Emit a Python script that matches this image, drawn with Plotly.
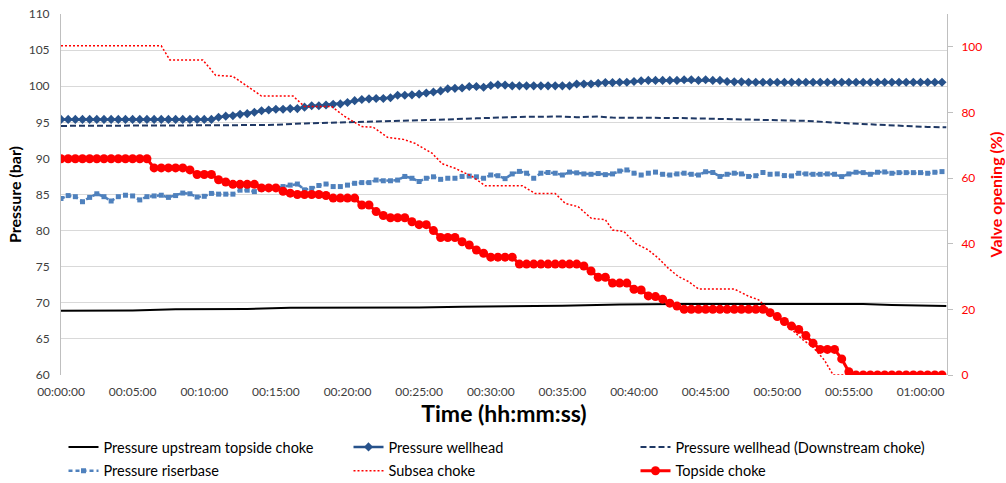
import plotly.graph_objects as go

# ---- 30-second samples (markers drawn at every sample) ----
SAMPLE_STEP_MIN = 0.5

pressure_wellhead = [
    95.4, 95.4, 95.4, 95.4, 95.4, 95.4, 95.4, 95.4, 95.4, 95.4,
    95.4, 95.4, 95.4, 95.4, 95.4, 95.4, 95.4, 95.4, 95.4, 95.4,
    95.4, 95.4, 95.7, 95.85, 95.9, 96.1, 96.2, 96.4, 96.6, 96.7,
    96.8, 96.8, 96.9, 96.9, 97.1, 97.3, 97.3, 97.4, 97.5, 97.55,
    97.75, 98.0, 98.15, 98.25, 98.3, 98.3, 98.4, 98.75, 98.75, 98.8,
    98.9, 99.05, 99.2, 99.35, 99.65, 99.7, 99.75, 99.95, 99.95, 99.85,
    100.1, 100.2, 100.15, 100.05, 100.05, 100.05, 100.05, 100.05, 100.05, 100.05,
    100.05, 100.05, 100.3, 100.3, 100.3, 100.4, 100.5, 100.5, 100.55, 100.55,
    100.65, 100.75, 100.8, 100.8, 100.8, 100.8, 100.8, 100.9, 100.9, 100.8,
    100.9, 100.8, 100.8, 100.65, 100.6, 100.6, 100.55, 100.55, 100.55, 100.55,
    100.55, 100.55, 100.55, 100.55, 100.55, 100.55, 100.55, 100.55, 100.55, 100.55,
    100.55, 100.55, 100.55, 100.55, 100.55, 100.55, 100.55, 100.55, 100.55, 100.55,
    100.55, 100.55, 100.55, 100.55,
]

pressure_riserbase = [
    84.45, 84.85, 84.7, 84.0, 84.6, 85.1, 84.7, 84.1, 84.7, 84.9,
    84.8, 84.25, 84.7, 84.8, 84.9, 84.6, 84.85, 85.2, 85.1, 84.65,
    84.75, 85.15, 85.05, 85.05, 85.05, 85.6, 85.6, 85.4, 85.7, 85.9,
    85.9, 86.1, 86.3, 86.45, 85.65, 85.85, 86.25, 86.45, 86.1, 86.1,
    86.3, 86.55, 86.65, 86.65, 87.0, 86.9, 86.9, 87.0, 87.5, 87.25,
    86.8, 87.25, 87.45, 87.1, 87.25, 87.25, 87.5, 87.55, 87.45, 87.25,
    87.7, 87.6, 87.2, 87.85, 88.2, 87.95, 87.25, 87.95, 88.05, 87.95,
    87.7, 88.1, 88.0, 87.85, 87.8, 87.9, 87.75, 87.85, 88.25, 88.4,
    87.95, 87.7, 87.95, 88.1, 87.8, 87.7, 87.85, 87.95, 87.8, 87.7,
    88.15, 88.05, 87.5, 87.8, 87.95, 87.85, 87.5, 87.6, 88.05, 87.8,
    87.85, 87.62, 87.57, 87.94, 87.85, 87.8, 87.8, 87.85, 87.8, 87.48,
    87.85, 88.08, 88.03, 87.8, 88.08, 88.12, 87.94, 88.03, 88.03, 88.03,
    88.03, 87.94, 88.08, 88.17,
]

topside_choke = [
    65.9, 65.9, 65.9, 65.9, 65.9, 65.9, 65.9, 65.9, 65.9, 65.9,
    65.9, 65.9, 65.9, 63.1, 63.1, 63.1, 63.1, 63.1, 62.5, 61.1,
    61.1, 61.1, 59.5, 58.8, 58.1, 58.1, 58.1, 58.1, 57.0, 57.0,
    57.0, 56.0, 55.4, 55.0, 55.0, 55.0, 55.0, 54.7, 53.9, 53.9,
    53.9, 53.9, 51.8, 51.8, 49.8, 48.6, 47.9, 47.9, 47.9, 46.7,
    45.8, 45.8, 44.0, 41.9, 41.9, 41.9, 40.6, 39.6, 38.1, 37.1,
    35.9, 35.9, 35.9, 35.9, 33.8, 33.8, 33.8, 33.8, 33.8, 33.8,
    33.8, 33.8, 33.8, 33.2, 31.7, 29.8, 29.8, 28.0, 28.0, 28.0,
    26.1, 25.9, 24.1, 23.9, 23.1, 21.9, 21.0, 20.0, 20.0, 20.0,
    20.0, 20.0, 20.0, 20.0, 20.0, 20.0, 20.0, 20.0, 20.0, 19.0,
    17.8, 16.3, 14.9, 13.9, 12.0, 9.7, 7.8, 7.8, 7.8, 4.9,
    1.0, 0.0, 0.0, 0.0, 0.0, 0.0, 0.0, 0.0, 0.0, 0.0,
    0.0, 0.0, 0.0, 0.0,
]

sample_time = [i * SAMPLE_STEP_MIN for i in range(len(topside_choke))]

# ---- continuous logs (no markers), given at their break points ----
upstream_time = [0, 5, 8, 13, 16, 19, 22, 25, 28, 31, 35, 39, 43, 50, 56, 58, 61.8]
pressure_upstream = [68.9, 68.95, 69.1, 69.15, 69.3, 69.3, 69.35, 69.35, 69.45,
                     69.5, 69.6, 69.75, 69.85, 69.85, 69.85, 69.7, 69.55]

downstream_time = [0, 8, 12, 15, 17, 20, 22, 24, 26, 27, 29, 32, 35, 36, 37.5,
                   38.5, 43, 45, 48, 50, 52, 54.5, 58, 60.5, 61.8]
pressure_downstream = [94.5, 94.5, 94.6, 94.65, 94.85, 95.0, 95.1, 95.2, 95.25,
                       95.4, 95.55, 95.75, 95.8, 95.7, 95.8, 95.65, 95.6, 95.5,
                       95.45, 95.3, 95.2, 94.9, 94.55, 94.35, 94.3]

subsea_time = [0, 7.0, 7.6, 9.9, 10.8, 12.0, 13.0, 14.0, 16.2, 17.0, 18.9, 19.8,
               21.0, 21.8, 22.8, 23.9, 24.7, 25.9, 26.6, 27.5, 28.7, 29.6, 32.2,
               33.1, 34.5, 35.2, 36.1, 37.0, 38.0, 38.5, 39.3, 40.1, 41.0, 41.7,
               42.4, 43.1, 43.8, 44.5, 47.0, 48.0, 48.7, 49.3, 50.4, 51.1, 51.8,
               52.5, 53.3, 53.9, 61.5]
subsea_choke = [100.3, 100.3, 96.0, 96.0, 91.3, 91.0, 88.0, 85.0, 85.0, 81.8, 81.8,
                78.8, 75.7, 75.5, 72.4, 71.8, 70.6, 67.6, 64.4, 63.0, 60.5, 57.7,
                57.7, 55.3, 55.3, 52.3, 51.3, 47.8, 47.3, 44.2, 43.7, 40.1, 38.1,
                35.6, 32.5, 30.0, 28.5, 26.2, 26.2, 24.0, 22.9, 20.5, 15.8, 13.5,
                10.7, 8.5, 4.5, 0.0, 0.0]

x_tick_vals = [0, 5, 10, 15, 20, 25, 30, 35, 40, 45, 50, 55, 60]
x_tick_text = ["00:00:00", "00:05:00", "00:10:00", "00:15:00", "00:20:00",
               "00:25:00", "00:30:00", "00:35:00", "00:40:00", "00:45:00",
               "00:50:00", "00:55:00", "01:00:00"]

FONT = "Lato"
GRID = "#D9D9D9"
AXIS = "#BFBFBF"
TICK_TXT = "#404040"
LEGEND_FONT = dict(family=FONT, size=14.5, color="#000000")

W, H = 1006, 483
PLOT_L, PLOT_R = 61, 947          # plot-area edges in pixels
PLOT_T, PLOT_B = 14, 375
LEGEND_TOP = 431                  # legend block top in pixels

fig = go.Figure()

# legend column 1
fig.add_trace(go.Scatter(
    x=upstream_time, y=pressure_upstream, mode="lines",
    name="Pressure upstream topside choke", legend="legend", legendgroup="a",
    line=dict(color="#000000", width=2)))

# legend column 2
fig.add_trace(go.Scatter(
    x=sample_time, y=pressure_wellhead, mode="lines+markers",
    name="Pressure wellhead", legend="legend2", legendgroup="b",
    line=dict(color="#27528B", width=2.5),
    marker=dict(symbol="diamond", size=7, color="#27528B")))

# legend column 3
fig.add_trace(go.Scatter(
    x=downstream_time, y=pressure_downstream, mode="lines",
    name="Pressure wellhead (Downstream choke)", legend="legend3", legendgroup="c",
    line=dict(color="#1F3864", width=2, dash="6px,3px")))

fig.add_trace(go.Scatter(
    x=sample_time, y=pressure_riserbase, mode="lines+markers",
    name="Pressure riserbase", legend="legend", legendgroup="d",
    line=dict(color="#4F81BD", width=2.5, dash="4px,3px"),
    marker=dict(symbol="square", size=5, color="#4F81BD")))

fig.add_trace(go.Scatter(
    x=subsea_time, y=subsea_choke, mode="lines", yaxis="y2",
    name="Subsea choke", legend="legend2", legendgroup="e",
    line=dict(color="#FF0000", width=1.5, dash="2px,2px")))

fig.add_trace(go.Scatter(
    x=sample_time, y=topside_choke, mode="lines+markers", yaxis="y2",
    name="Topside choke", legend="legend3", legendgroup="f",
    line=dict(color="#FF0000", width=3),
    marker=dict(symbol="circle", size=9, color="#FF0000")))


def legend_column(x_px):
    return dict(
        orientation="v", xref="paper", yref="container",
        x=(x_px - PLOT_L) / (PLOT_R - PLOT_L), xanchor="left",
        y=1 - LEGEND_TOP / H, yanchor="top",
        font=LEGEND_FONT, traceorder="grouped", tracegroupgap=2,
        bgcolor="rgba(0,0,0,0)",
    )


fig.update_layout(
    width=W, height=H,
    margin=dict(l=PLOT_L, r=W - PLOT_R, t=PLOT_T, b=H - PLOT_B),
    paper_bgcolor="white", plot_bgcolor="white",
    font=dict(family=FONT, size=12, color=TICK_TXT),
    showlegend=True,
    legend=legend_column(63.5),
    legend2=legend_column(348.5),
    legend3=legend_column(635.5),
    xaxis=dict(
        range=[0, 61.85], tickmode="array", tickvals=x_tick_vals, ticktext=x_tick_text,
        showgrid=False, zeroline=False, showline=False, automargin=False,
        ticks="outside", ticklen=6, tickcolor="rgba(0,0,0,0)",
        tickfont=dict(family=FONT, size=12, color=TICK_TXT),
        title=dict(text="<b>Time (hh:mm:ss)</b>", standoff=4,
                   font=dict(family=FONT, size=23, color="#000000")),
    ),
    yaxis=dict(
        range=[60, 110], dtick=5, tick0=60,
        showgrid=True, gridcolor=GRID, gridwidth=1, automargin=False,
        zeroline=False, showline=True, linecolor=AXIS, linewidth=1,
        ticks="outside", ticklen=8, tickcolor="rgba(0,0,0,0)",
        tickfont=dict(family=FONT, size=12, color=TICK_TXT),
        title=dict(text="<b>Pressure (bar)</b>", standoff=3,
                   font=dict(family=FONT, size=16, color="#000000")),
    ),
    yaxis2=dict(
        range=[0, 110], tickmode="array", tickvals=[0, 20, 40, 60, 80, 100],
        overlaying="y", side="right", showgrid=False, zeroline=False,
        showline=True, linecolor=AXIS, linewidth=1, automargin=False,
        ticks="outside", ticklen=5, tickcolor=AXIS, ticklabelstandoff=6,
        tickfont=dict(family=FONT, size=12, color="#FF0000"),
        title=dict(text="<b>Valve opening (%)</b>", standoff=9,
                   font=dict(family=FONT, size=16, color="#FF0000")),
    ),
)

fig.write_html("out.html")
